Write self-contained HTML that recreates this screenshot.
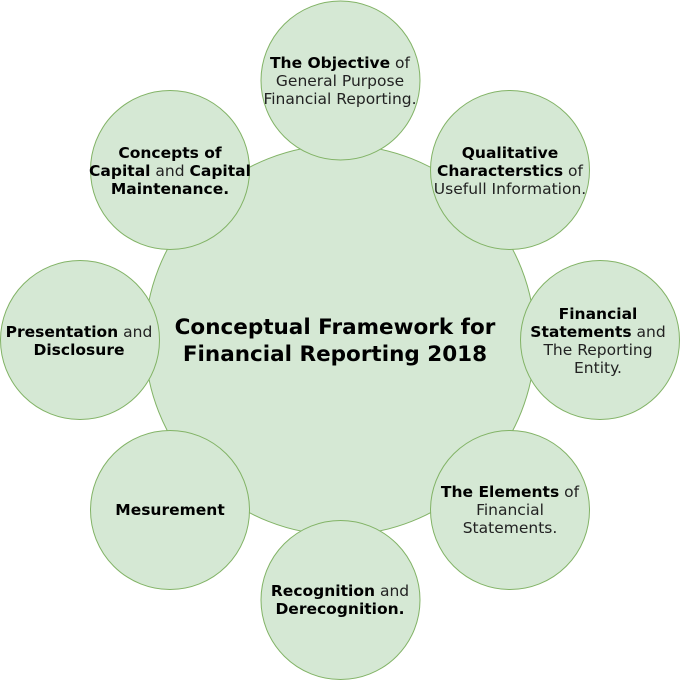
<!DOCTYPE html>
<html><head><style>
html,body{margin:0;padding:0;background:#fff;}
svg{display:block;}
text{font-family:"DejaVu Sans",Verdana,sans-serif;font-size:15.5px;fill:#222;text-anchor:middle;}
.b{font-weight:bold;fill:#000;}
</style></head><body>
<svg width="681" height="682" viewBox="0 0 681 682">
<g fill="#d5e8d4" stroke="#82b366" stroke-width="1">
<circle cx="340" cy="340" r="195"/>
<circle cx="340.5" cy="80.5" r="79.5"/>
<circle cx="510" cy="170" r="79.5"/>
<circle cx="600" cy="340" r="79.5"/>
<circle cx="510" cy="510" r="79.5"/>
<circle cx="340.5" cy="600" r="79.5"/>
<circle cx="170" cy="510" r="79.5"/>
<circle cx="80" cy="340" r="79.5"/>
<circle cx="170" cy="170" r="79.5"/>
</g>
<text x="335" y="334" class="b" style="font-size:21.5px">Conceptual Framework for</text>
<text x="335" y="361" class="b" style="font-size:21.5px">Financial Reporting 2018</text>

<text x="340" y="68"><tspan class="b">The Objective</tspan> of</text>
<text x="340" y="86">General Purpose</text>
<text x="340" y="104">Financial Reporting.</text>

<text x="510" y="158" class="b">Qualitative</text>
<text x="510" y="176"><tspan class="b">Characterstics</tspan> of</text>
<text x="510" y="194">Usefull Information.</text>

<text x="598" y="319" class="b">Financial</text>
<text x="598" y="337"><tspan class="b">Statements</tspan> and</text>
<text x="598" y="355">The Reporting</text>
<text x="598" y="373">Entity.</text>

<text x="510" y="497"><tspan class="b">The Elements</tspan> of</text>
<text x="510" y="515">Financial</text>
<text x="510" y="533">Statements.</text>

<text x="340" y="596"><tspan class="b">Recognition</tspan> and</text>
<text x="340" y="614" class="b">Derecognition.</text>

<text x="170" y="515" class="b">Mesurement</text>

<text x="79" y="337"><tspan class="b">Presentation</tspan> and</text>
<text x="79" y="355" class="b">Disclosure</text>

<text x="170" y="158" class="b">Concepts of</text>
<text x="170" y="176"><tspan class="b">Capital</tspan> and <tspan class="b">Capital</tspan></text>
<text x="170" y="194" class="b">Maintenance.</text>
</svg>
</body></html>
